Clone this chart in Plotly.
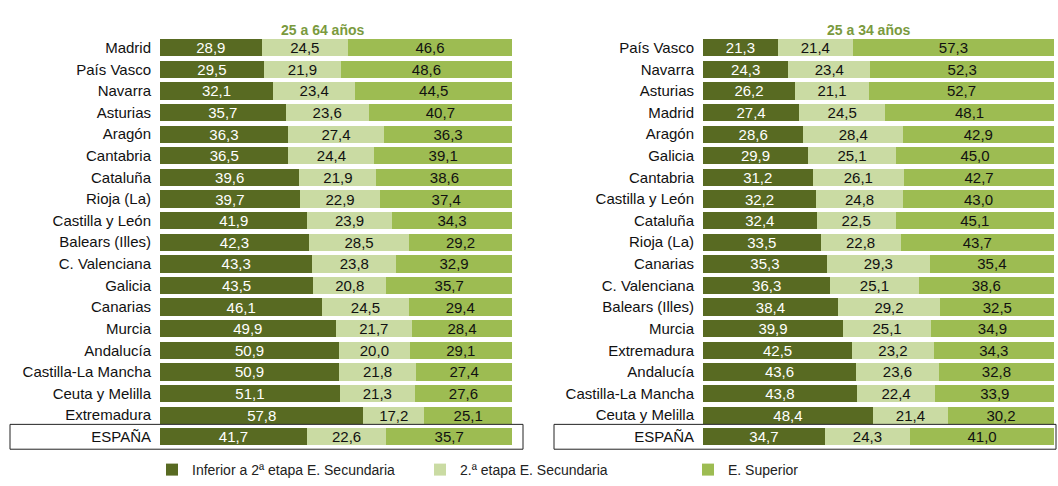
import plotly.graph_objects as go

# Población por nivel de formación alcanzado (%), por comunidad autónoma
regiones_25_64 = ["Madrid", "País Vasco", "Navarra", "Asturias", "Aragón", "Cantabria",
                  "Cataluña", "Rioja (La)", "Castilla y León", "Balears (Illes)",
                  "C. Valenciana", "Galicia", "Canarias", "Murcia", "Andalucía",
                  "Castilla-La Mancha", "Ceuta y Melilla", "Extremadura", "ESPAÑA"]
inferior_25_64 = [28.9, 29.5, 32.1, 35.7, 36.3, 36.5, 39.6, 39.7, 41.9, 42.3,
                  43.3, 43.5, 46.1, 49.9, 50.9, 50.9, 51.1, 57.8, 41.7]
segunda_25_64 = [24.5, 21.9, 23.4, 23.6, 27.4, 24.4, 21.9, 22.9, 23.9, 28.5,
                 23.8, 20.8, 24.5, 21.7, 20.0, 21.8, 21.3, 17.2, 22.6]
superior_25_64 = [46.6, 48.6, 44.5, 40.7, 36.3, 39.1, 38.6, 37.4, 34.3, 29.2,
                  32.9, 35.7, 29.4, 28.4, 29.1, 27.4, 27.6, 25.1, 35.7]

regiones_25_34 = ["País Vasco", "Navarra", "Asturias", "Madrid", "Aragón", "Galicia",
                  "Cantabria", "Castilla y León", "Cataluña", "Rioja (La)", "Canarias",
                  "C. Valenciana", "Balears (Illes)", "Murcia", "Extremadura",
                  "Andalucía", "Castilla-La Mancha", "Ceuta y Melilla", "ESPAÑA"]
inferior_25_34 = [21.3, 24.3, 26.2, 27.4, 28.6, 29.9, 31.2, 32.2, 32.4, 33.5,
                  35.3, 36.3, 38.4, 39.9, 42.5, 43.6, 43.8, 48.4, 34.7]
segunda_25_34 = [21.4, 23.4, 21.1, 24.5, 28.4, 25.1, 26.1, 24.8, 22.5, 22.8,
                 29.3, 25.1, 29.2, 25.1, 23.2, 23.6, 22.4, 21.4, 24.3]
superior_25_34 = [57.3, 52.3, 52.7, 48.1, 42.9, 45.0, 42.7, 43.0, 45.1, 43.7,
                  35.4, 38.6, 32.5, 34.9, 34.3, 32.8, 33.9, 30.2, 41.0]

titulos = ["25 a 64 años", "25 a 34 años"]
niveles = ["Inferior a 2ª etapa E. Secundaria", "2.ª etapa E. Secundaria", "E. Superior"]

W, H = 1058, 486
colores = ["#586a22", "#cadba3", "#9dbc52"]
texto_color = ["white", "#111111", "#111111"]
FONT = "Liberation Sans, Arial, sans-serif"

fig = go.Figure()

paneles = [
    (regiones_25_64, [inferior_25_64, segunda_25_64, superior_25_64], "x", "y", True),
    (regiones_25_34, [inferior_25_34, segunda_25_34, superior_25_34], "x2", "y2", False),
]
for regiones, series, xa, ya, leyenda in paneles:
    for nivel, valores, color, tcol in zip(niveles, series, colores, texto_color):
        fig.add_trace(go.Bar(
            x=valores, y=regiones, orientation="h", name=nivel,
            marker=dict(color=color, line=dict(width=0)),
            texttemplate="%{x:.1f}", textposition="inside", insidetextanchor="middle",
            constraintext="none",
            textfont=dict(family=FONT, size=15, color=tcol),
            xaxis=xa, yaxis=ya, showlegend=leyenda, hoverinfo="skip",
        ))

def px_x(p):
    return p / W

def px_y(p):
    return 1 - p / H

top_px, bottom_px = 37.1, 450.4
ydom = [px_y(bottom_px), px_y(top_px)]

eje_y = dict(type="category", range=[18.5, -0.5], domain=ydom, showgrid=False,
             zeroline=False, showline=False, ticks="outside", ticklen=5,
             tickcolor="rgba(0,0,0,0)", tickfont=dict(family=FONT, size=15, color="#111111"))
eje_x = dict(range=[0, 100], showgrid=False, zeroline=False, showline=False,
             showticklabels=False, ticks="")

fig.update_layout(
    width=W, height=H,
    margin=dict(l=0, r=0, t=0, b=0),
    paper_bgcolor="white", plot_bgcolor="white",
    barmode="stack", bargap=0.2,
    separators=", ",
    font=dict(family=FONT, size=14, color="#111111"),
    xaxis=dict(eje_x, domain=[px_x(160), px_x(512)], anchor="y"),
    yaxis=dict(eje_y, anchor="x", categoryarray=regiones_25_64),
    xaxis2=dict(eje_x, domain=[px_x(703), px_x(1054)], anchor="y2"),
    yaxis2=dict(eje_y, anchor="x2", categoryarray=regiones_25_34),
    legend=dict(orientation="h", x=px_x(152), y=px_y(473), yanchor="middle",
                xanchor="left", entrywidth=223, entrywidthmode="pixels",
                font=dict(family=FONT, size=14, color="#222222"),
                itemwidth=30, traceorder="normal", bgcolor="rgba(0,0,0,0)"),
    annotations=[
        dict(text="<b>" + titulos[0] + "</b>", x=px_x(322), y=px_y(20), xref="paper",
             yref="paper", xanchor="center", showarrow=False,
             font=dict(family=FONT, size=14, color="#7a9a3e")),
        dict(text="<b>" + titulos[1] + "</b>", x=px_x(868), y=px_y(20), xref="paper",
             yref="paper", xanchor="center", showarrow=False,
             font=dict(family=FONT, size=14, color="#7a9a3e")),
    ],
    shapes=[
        dict(type="rect", xref="paper", yref="paper", x0=px_x(10), x1=px_x(523),
             y0=px_y(452), y1=px_y(427), line=dict(color="#222222", width=1)),
        dict(type="rect", xref="paper", yref="paper", x0=px_x(554), x1=px_x(1056),
             y0=px_y(452), y1=px_y(427), line=dict(color="#222222", width=1)),
    ],
)

fig.write_html("out.html")
